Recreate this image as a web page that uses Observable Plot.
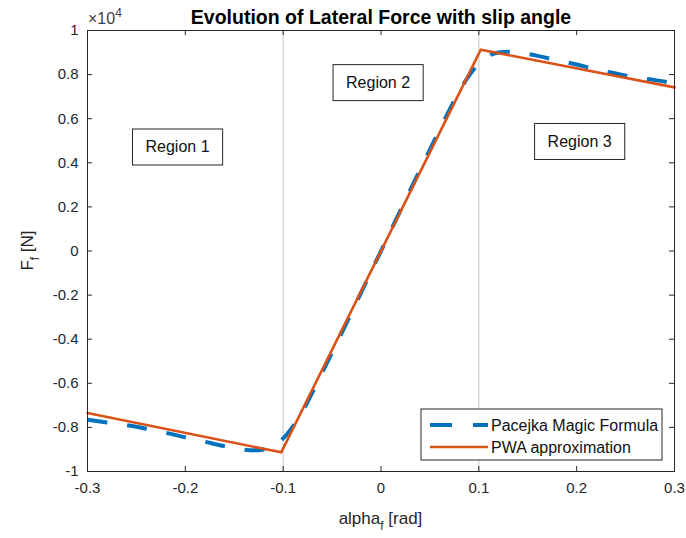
<!DOCTYPE html>
<html><head><meta charset="utf-8">
<script src="https://cdn.jsdelivr.net/npm/d3@7"></script>
<script src="https://cdn.jsdelivr.net/npm/@observablehq/plot@0.6"></script>
<style>
body{margin:0;background:#fff;}
#chart svg{font-family:"Liberation Sans",Arial,sans-serif;}
</style>
</head><body><div id="chart"></div>
<script>
// ---- data ----
const title = "Evolution of Lateral Force with slip angle";
const xTicks = [-0.3, -0.2, -0.1, 0, 0.1, 0.2, 0.3];
const yTicks = [-1, -0.8, -0.6, -0.4, -0.2, 0, 0.2, 0.4, 0.6, 0.8, 1];
const yExponent = 4;
const regionBounds = [-0.1, 0.1];
const seriesNames = ["Pacejka Magic Formula", "PWA approximation"];
const pacejkaAlpha = [-0.3,-0.28,-0.26,-0.24,-0.22,-0.2,-0.18,-0.16,-0.14,-0.13,-0.12,-0.11,-0.1,-0.09,-0.08,-0.07,-0.06,-0.04,-0.02,0,
  0.02,0.04,0.06,0.07,0.08,0.09,0.1,0.11,0.12,0.13,0.14,0.16,0.18,0.2,0.22,0.24,0.26,0.28,0.3];
const pacejkaF = [-7650,-7780,-7900,-8060,-8240,-8450,-8650,-8850,-9010,-9040,-9000,-8850,-8500,-7950,-7250,-6400,-5500,-3700,-1850,0,
  1850,3700,5500,6400,7250,7950,8500,8850,9000,9040,9010,8850,8650,8460,8230,8050,7870,7750,7600];
const pwaAlpha = [-0.3, -0.102, 0.102, 0.3];
const pwaF = [-7350, -9130, 9130, 7420];
const regionLabels = ["Region 1", "Region 2", "Region 3"];
const regionAlpha = [-0.208, -0.003, 0.203];
const regionF = [4700, 7620, 4950];

// ---- layout ----
const W = 686, H = 538, mL = 87, mR = 12, mT = 30, mB = 67;
const pH = H - mT - mB, pW = W - mL - mR;
const axisColor = "#262626";
const blue = "#0072BD", orange = "#D95319";
const scaleK = Math.pow(10, yExponent);
const fmt = d => String(+d.toFixed(2));

const pac = pacejkaAlpha.map((a, i) => ({a, F: pacejkaF[i] / scaleK}));
const pwa = pwaAlpha.map((a, i) => ({a, F: pwaF[i] / scaleK}));
const regions = regionLabels.map((t, i) => ({t, a: regionAlpha[i], F: regionF[i] / scaleK}));

const svg = Plot.plot({
  width: W, height: H, marginLeft: mL, marginRight: mR, marginTop: mT, marginBottom: mB,
  style: {fontFamily: "Liberation Sans, Arial, sans-serif", fontSize: "15px", color: axisColor, background: "white", overflow: "visible"},
  x: {domain: [-0.3, 0.3], ticks: xTicks, tickFormat: fmt, tickSize: 0, tickPadding: 11, label: null},
  y: {domain: [-1, 1], ticks: yTicks, tickFormat: fmt, tickSize: 0, tickPadding: 9, label: null},
  marks: [
    Plot.ruleX(regionBounds, {x: d => d, stroke: "#cfcfcf", strokeWidth: 1.2}),
    Plot.line(pac, {x: "a", y: "F", stroke: blue, strokeWidth: 4, strokeDasharray: "20,20", strokeLinecap: "butt", curve: "monotone-x"}),
    Plot.line(pwa, {x: "a", y: "F", stroke: orange, strokeWidth: 2.6}),
    Plot.tickX(xTicks, {x: d => d, insetTop: pH - 5, stroke: axisColor}),
    Plot.tickX(xTicks, {x: d => d, insetBottom: pH - 5, stroke: axisColor}),
    Plot.tickY(yTicks, {y: d => d, insetLeft: pW - 5, stroke: axisColor}),
    Plot.tickY(yTicks, {y: d => d, insetRight: pW - 5, stroke: axisColor}),
    Plot.frame({stroke: axisColor, strokeWidth: 1}),
    Plot.text(regions, {x: "a", y: "F", text: "t", fontSize: 16, fill: "#111"}),
    Plot.text([title], {frameAnchor: "top", dy: -20, fontSize: 19.5, fontWeight: "bold", fill: "#000"})
  ]
});
document.getElementById("chart").appendChild(svg);

const s = d3.select(svg);
// region boxes
s.selectAll("text").filter(function() { return regionLabels.includes(this.textContent); }).each(function() {
  const b = this.getBBox();
  const bw = b.width + 26, bh = 36;
  const cx = b.x + b.width / 2, cy = b.y + b.height / 2;
  const parent = this.parentNode;
  const r = document.createElementNS("http://www.w3.org/2000/svg", "rect");
  r.setAttribute("x", cx - bw / 2); r.setAttribute("y", cy - bh / 2);
  r.setAttribute("width", bw); r.setAttribute("height", bh);
  r.setAttribute("fill", "white"); r.setAttribute("stroke", axisColor); r.setAttribute("stroke-width", 1);
  if (this.getAttribute("transform")) r.setAttribute("transform", this.getAttribute("transform"));
  parent.insertBefore(r, this);
});

// exponent label
const ex = s.append("text").attr("x", mL + 1).attr("y", mT - 6).attr("text-anchor", "start").attr("fill", "#404040").attr("font-size", 16);
ex.append("tspan").text("\u00d710");
ex.append("tspan").attr("dy", -7).attr("font-size", 12).text(String(yExponent));

// axis labels
const xl = s.append("text").attr("x", mL + pW / 2).attr("y", 524).attr("text-anchor", "middle").attr("fill", axisColor).attr("font-size", 17);
xl.append("tspan").text("alpha");
xl.append("tspan").attr("dy", 6).attr("font-size", 12).text("f");
xl.append("tspan").attr("dy", -6).text(" [rad]");
const yl = s.append("text").attr("transform", `translate(33,${mT + pH / 2}) rotate(-90)`).attr("text-anchor", "middle").attr("fill", axisColor).attr("font-size", 17);
yl.append("tspan").text("F");
yl.append("tspan").attr("dy", 6).attr("font-size", 12).text("f");
yl.append("tspan").attr("dy", -6).text(" [N]");

// legend
const lg = s.append("g");
const lx = 421, ly = 409, lw = 241, lh = 51;
lg.append("rect").attr("x", lx).attr("y", ly).attr("width", lw).attr("height", lh).attr("fill", "white").attr("stroke", axisColor);
const rows = [{c: blue, w: 4, dash: "22,21"}, {c: orange, w: 2.6, dash: null}];
rows.forEach((r, i) => {
  const y = ly + 16 + i * 22;
  const ln = lg.append("line").attr("x1", lx + 9).attr("x2", lx + 67).attr("y1", y).attr("y2", y).attr("stroke", r.c).attr("stroke-width", r.w);
  if (r.dash) ln.attr("stroke-dasharray", r.dash);
  lg.append("text").attr("x", lx + 70).attr("y", y).attr("dy", "0.35em").attr("text-anchor", "start").attr("font-size", 16).attr("fill", "#111").text(seriesNames[i]);
});
</script>
</body></html>
